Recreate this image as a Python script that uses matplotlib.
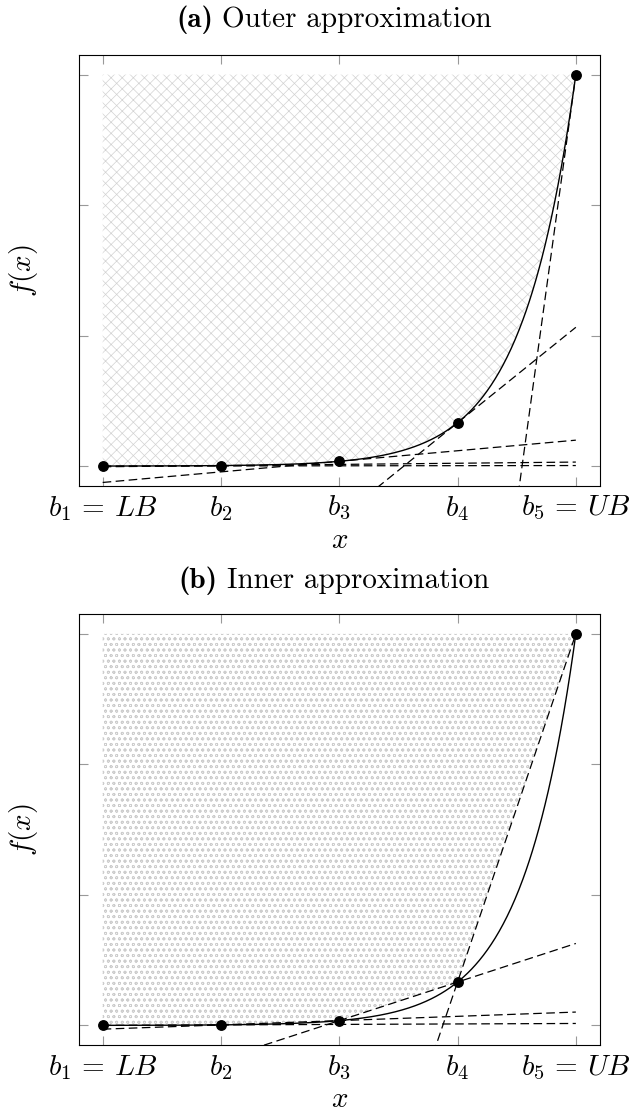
import numpy as np
import matplotlib
matplotlib.use("Agg")
import matplotlib.pyplot as plt
from matplotlib.offsetbox import TextArea, HPacker, AnchoredOffsetbox

# ---------------- data ----------------
breakpoints = [1, 2, 3, 4, 5]
tick_labels = [r"$b_1\,=\,LB$", r"$b_2$", r"$b_3$", r"$b_4$", r"$b_5\,=\,UB$"]
y_ticks = [0, 1, 2, 3]
f_top = 3.0          # value of f at the upper bound b5
growth = 2.2         # exponential growth rate of f per unit of x
panel_tags = ["(a)", "(b)"]
panel_names = ["Outer approximation", "Inner approximation"]


def f(x):
    return f_top * np.exp(growth * (np.asarray(x, float) - breakpoints[-1]))


def fprime(x):
    return growth * f(x)


# ---------------- style ----------------
plt.rcParams["font.family"] = "serif"
plt.rcParams["font.serif"] = ["cmr10", "DejaVu Serif"]
plt.rcParams["mathtext.fontset"] = "cm"
plt.rcParams["axes.formatter.use_mathtext"] = True
plt.rcParams["hatch.linewidth"] = 0.55
plt.rcParams["lines.scale_dashes"] = False

FS = 21.0
W, H = 633, 1114
fig = plt.figure(figsize=(W / 100, H / 100), dpi=100)

ax_left = 79 / W
ax_w = (599.5 - 79) / W
ax_h = (485.7 - 55) / H
ax_top = fig.add_axes([ax_left, 1 - 485.7 / H, ax_w, ax_h])
ax_bot = fig.add_axes([ax_left, 1 - 1045 / H, ax_w, ax_h])

xs = np.linspace(breakpoints[0], breakpoints[-1], 600)
bx = np.array(breakpoints, float)
by = f(bx)

dash = (0, (6.2, 3.2))
line_kw = dict(color="black", lw=0.9)
title_bottom_px = [34, 595]

for k, ax in enumerate([ax_top, ax_bot]):
    if k == 0:
        with plt.rc_context({"hatch.linewidth": 0.5}):
            ax.fill_between(xs, f(xs), f_top, facecolor="none", edgecolor="#d2d2d2",
                            hatch="xxx", lw=0, zorder=1)
        for b in bx:
            ax.plot(xs, f(b) + fprime(b) * (xs - b), linestyle=dash, zorder=2, **line_kw)
    else:
        with plt.rc_context({"hatch.linewidth": 0.55}):
            ax.fill_between(bx, by, f_top, facecolor="none", edgecolor="#cdcdcd",
                            hatch="ooo", lw=0, zorder=1)
        for i in range(len(bx) - 1):
            slope = (by[i + 1] - by[i]) / (bx[i + 1] - bx[i])
            ax.plot(xs, by[i] + slope * (xs - bx[i]), linestyle=dash, zorder=2, **line_kw)

    ax.plot(xs, f(xs), color="black", lw=1.0, zorder=3)
    ax.plot(bx, by, "o", color="black", ms=6.8, zorder=4)

    ax.set_xlim(0.8, 5.2)
    ax.set_ylim(-0.15, 3.15)
    ax.set_xticks(breakpoints)
    ax.set_xticklabels(tick_labels, fontsize=FS)
    ax.set_yticks(y_ticks)
    ax.set_yticklabels([])
    ax.tick_params(direction="in", length=6.5, width=0.8, color="#999999",
                   top=True, right=True, pad=6)
    for s in ax.spines.values():
        s.set_linewidth(0.8)
    ax.set_xlabel(r"$x$", fontsize=FS, labelpad=3)
    ax.set_ylabel(r"$f(x)$", fontsize=FS, labelpad=22)

    tag = TextArea(panel_tags[k], textprops=dict(family="cmb10", fontsize=FS))
    name = TextArea(panel_names[k], textprops=dict(family="cmr10", fontsize=FS))
    pack = HPacker(children=[tag, name], align="baseline", pad=0, sep=7)
    anch = AnchoredOffsetbox(loc="lower center", child=pack, pad=0, borderpad=0,
                             frameon=False,
                             bbox_to_anchor=(334 / W, 1 - title_bottom_px[k] / H),
                             bbox_transform=fig.transFigure)
    fig.add_artist(anch)

fig.savefig("out.png", dpi=100)
